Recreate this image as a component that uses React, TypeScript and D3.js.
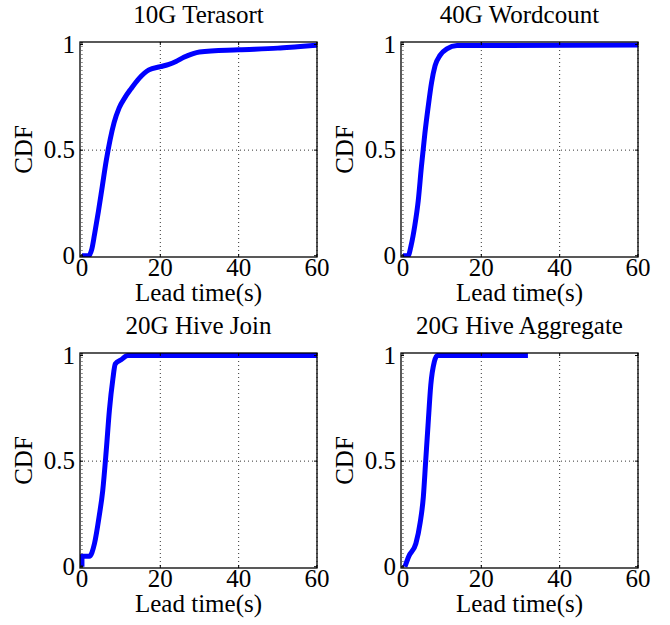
import React from 'react';
import * as d3 from 'd3';

// lead time (s) and CDF values
const terasortX = [0, 1.7, 2.5, 3.2, 4.2, 5.2, 6.2, 7.2, 8.2, 9.5, 11, 12.5, 14.6, 17.1, 20, 22, 24, 26, 28, 30, 40, 50, 55, 60];
const terasortY = [0, 0, 0.03, 0.1, 0.21, 0.33, 0.45, 0.55, 0.63, 0.7, 0.75, 0.79, 0.84, 0.88, 0.895, 0.905, 0.92, 0.94, 0.955, 0.965, 0.975, 0.983, 0.99, 0.997];

const wordcountX = [0, 1.3, 2.1, 3, 3.9, 4.7, 5.6, 6.4, 7.3, 8.2, 9.5, 11.2, 13.8, 60];
const wordcountY = [0, 0, 0.05, 0.14, 0.26, 0.42, 0.58, 0.7, 0.82, 0.9, 0.95, 0.98, 0.995, 0.998];

const joinX = [0, 0, 1.9, 3.2, 4.4, 5.3, 6.2, 7, 7.9, 8.5, 10, 11.7, 60];
const joinY = [0, 0.05, 0.05, 0.11, 0.24, 0.36, 0.55, 0.74, 0.89, 0.96, 0.98, 1, 1];

const aggregateX = [0.5, 1.5, 3.3, 4.4, 5.2, 5.8, 6.4, 7.1, 8, 8.8, 31.9];
const aggregateY = [0, 0.05, 0.11, 0.21, 0.33, 0.5, 0.67, 0.86, 0.97, 1, 1];

const titles = ['10G Terasort', '40G Wordcount', '20G Hive Join', '20G Hive Aggregate'];
const xTicks = [0, 20, 40, 60];
const yTicks = [0, 0.5, 1];
const yTickLabels = ['0', '0.5', '1'];

const seriesX = [terasortX, wordcountX, joinX, aggregateX];
const seriesY = [terasortY, wordcountY, joinY, aggregateY];

const W = 670;
const H = 625;
const PW = 237;
const PH = 215;
const origins = [
  [80, 42],
  [401, 42],
  [80, 353],
  [401, 353],
];
const font = '"Liberation Serif", "Times New Roman", Times, serif';
const fs = 25;

function Panel({ idx }: { idx: number }) {
  const [left, top] = origins[idx];
  const x = d3.scaleLinear().domain([-0.5, 60]).range([left, left + PW]);
  const y = d3.scaleLinear().domain([-0.006, 1.012]).range([top + PH, top]);
  const pts: [number, number][] = seriesX[idx].map((v, i) => [v, seriesY[idx][i]]);
  const line = d3
    .line<[number, number]>()
    .x((d) => x(d[0]))
    .y((d) => y(d[1]))
    .curve(d3.curveMonotoneX);
  const clipId = 'clip' + idx;
  return (
    <g>
      <defs>
        <clipPath id={clipId}>
          <rect x={left} y={top} width={PW} height={PH} />
        </clipPath>
      </defs>
      <rect x={left} y={top} width={PW} height={PH} fill="#fff" />
      {/* dotted grid */}
      {xTicks.map((t) => (
        <line key={'gx' + t} x1={x(t)} x2={x(t)} y1={top} y2={top + PH}
          stroke="#333" strokeWidth={1} strokeDasharray="1,3" />
      ))}
      <line x1={left} x2={left + PW} y1={y(0.5)} y2={y(0.5)}
        stroke="#333" strokeWidth={1} strokeDasharray="1,3" />
      <path d={line(pts) || ''} fill="none" stroke="#0000ff" strokeWidth={5}
        strokeLinejoin="round" clipPath={`url(#${clipId})`} />
      <rect x={left} y={top} width={PW} height={PH} fill="none" stroke="#000" strokeWidth={1.3} />
      {xTicks.map((t) => (
        <g key={'tx' + t}>
          <line x1={x(t)} x2={x(t)} y1={top + PH} y2={top + PH - 3} stroke="#000" />
          <line x1={x(t)} x2={x(t)} y1={top} y2={top + 3} stroke="#000" />
          <text x={x(t)} y={top + PH + 19} textAnchor="middle" fontSize={fs} fontFamily={font}>{t}</text>
        </g>
      ))}
      {yTicks.map((t, i) => (
        <g key={'ty' + t}>
          <line x1={left} x2={left + 3} y1={y(t)} y2={y(t)} stroke="#000" />
          <line x1={left + PW} x2={left + PW - 3} y1={y(t)} y2={y(t)} stroke="#000" />
          <text x={left - 5} y={y(t)} dy="0.33em" textAnchor="end" fontSize={fs} fontFamily={font}>{yTickLabels[i]}</text>
        </g>
      ))}
      <text x={left + PW / 2} y={top - 19} textAnchor="middle" fontSize={fs} fontFamily={font}>{titles[idx]}</text>
      <text x={left + PW / 2} y={top + PH + 44} textAnchor="middle" fontSize={fs} fontFamily={font}>Lead time(s)</text>
      <text transform={`translate(${left - 48},${top + PH / 2}) rotate(-90)`} textAnchor="middle"
        fontSize={fs} fontFamily={font}>CDF</text>
    </g>
  );
}

export default function App() {
  return (
    <svg width={W} height={H} style={{ position: 'absolute', left: 0, top: 0, background: '#fff' }}>
      <rect width={W} height={H} fill="#fff" />
      {titles.map((_, i) => (
        <Panel key={i} idx={i} />
      ))}
    </svg>
  );
}
